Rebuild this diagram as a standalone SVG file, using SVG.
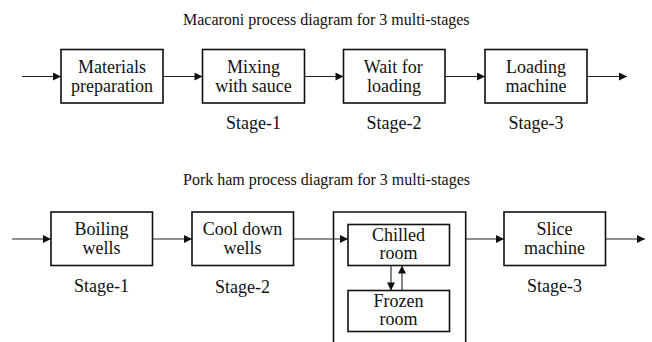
<svg xmlns="http://www.w3.org/2000/svg" width="652" height="342" viewBox="0 0 652 342">
  <style>
    .box { fill: #fff; stroke: #111; stroke-width: 1.6; }
    .lbl { font-size: 18px; fill: #111; }
    .title { font-size: 16px; fill: #111; }
    .flow { stroke: #222; stroke-width: 1.1; fill: none; }
  </style>
  <defs>
    <marker id="head" viewBox="0 0 10 10" refX="10" refY="5" markerWidth="9" markerHeight="8" markerUnits="userSpaceOnUse" orient="auto">
      <path d="M0,0 L10,5 L0,10 Z" fill="#111"/>
    </marker>
  </defs>
  <rect width="652" height="342" fill="#fff"/>

  <!-- Macaroni line (labels placed by their left edge) -->
  <text class="title" x="183" y="25" font-family="Liberation Serif, serif">Macaroni process diagram for 3 multi-stages</text>

  <g id="m-materials">
    <rect class="box" x="61" y="49.5" width="102" height="53.5"/>
    <text class="lbl" x="78" y="72.7" font-family="Liberation Serif, serif">Materials</text>
    <text class="lbl" x="71" y="91.7" font-family="Liberation Serif, serif">preparation</text>
  </g>
  <g id="m-mixing">
    <rect class="box" x="202.5" y="49.5" width="102" height="53.5"/>
    <text class="lbl" x="227" y="72.7" font-family="Liberation Serif, serif">Mixing</text>
    <text class="lbl" x="215.3" y="91.7" font-family="Liberation Serif, serif">with sauce</text>
    <text class="lbl" x="226" y="129.3" font-family="Liberation Serif, serif">Stage-1</text>
  </g>
  <g id="m-wait">
    <rect class="box" x="343.5" y="49.5" width="101.5" height="53.5"/>
    <text class="lbl" x="363.8" y="72.7" font-family="Liberation Serif, serif">Wait for</text>
    <text class="lbl" x="367" y="91.7" font-family="Liberation Serif, serif">loading</text>
    <text class="lbl" x="366.5" y="129.3" font-family="Liberation Serif, serif">Stage-2</text>
  </g>
  <g id="m-loading">
    <rect class="box" x="485" y="49.5" width="102" height="53.5"/>
    <text class="lbl" x="506" y="72.7" font-family="Liberation Serif, serif">Loading</text>
    <text class="lbl" x="505.5" y="91.7" font-family="Liberation Serif, serif">machine</text>
    <text class="lbl" x="508.5" y="129.3" font-family="Liberation Serif, serif">Stage-3</text>
  </g>

  <!-- Pork ham line -->
  <text class="title" x="183" y="185" font-family="Liberation Serif, serif">Pork ham process diagram for 3 multi-stages</text>

  <g id="p-boiling">
    <rect class="box" x="51" y="212" width="101.5" height="53.5"/>
    <text class="lbl" x="74.5" y="235" font-family="Liberation Serif, serif">Boiling</text>
    <text class="lbl" x="82.5" y="253.5" font-family="Liberation Serif, serif">wells</text>
    <text class="lbl" x="74" y="292" font-family="Liberation Serif, serif">Stage-1</text>
  </g>
  <g id="p-cooldown">
    <rect class="box" x="192" y="212" width="101.5" height="53.5"/>
    <text class="lbl" x="202.8" y="235" font-family="Liberation Serif, serif">Cool down</text>
    <text class="lbl" x="223.5" y="253.5" font-family="Liberation Serif, serif">wells</text>
    <text class="lbl" x="215" y="292.5" font-family="Liberation Serif, serif">Stage-2</text>
  </g>
  <g id="p-storage">
    <path d="M333.5,345 V212 H465.7 V345" fill="none" stroke="#111" stroke-width="1.6"/>
  </g>
  <g id="p-chilled">
    <rect class="box" x="348" y="224.5" width="101.5" height="41"/>
    <text class="lbl" x="372" y="240.7" font-family="Liberation Serif, serif">Chilled</text>
    <text class="lbl" x="379.5" y="259" font-family="Liberation Serif, serif">room</text>
  </g>
  <g id="p-frozen">
    <rect class="box" x="348" y="290.5" width="101.5" height="41"/>
    <text class="lbl" x="373.5" y="306.7" font-family="Liberation Serif, serif">Frozen</text>
    <text class="lbl" x="379.5" y="325" font-family="Liberation Serif, serif">room</text>
  </g>
  <g id="p-slice">
    <rect class="box" x="504" y="212" width="101.5" height="53.5"/>
    <text class="lbl" x="536.5" y="235" font-family="Liberation Serif, serif">Slice</text>
    <text class="lbl" x="524" y="253.5" font-family="Liberation Serif, serif">machine</text>
    <text class="lbl" x="527" y="292" font-family="Liberation Serif, serif">Stage-3</text>
  </g>

  <!-- connectors -->
  <g id="connectors" marker-end="url(#head)">
    <line class="flow" x1="22" y1="76.5" x2="61" y2="76.5"/>
    <line class="flow" x1="163" y1="76.5" x2="202.5" y2="76.5"/>
    <line class="flow" x1="304.5" y1="76.5" x2="343.5" y2="76.5"/>
    <line class="flow" x1="445" y1="76.5" x2="485" y2="76.5"/>
    <line class="flow" x1="587" y1="76.5" x2="627" y2="76.5"/>

    <line class="flow" x1="12" y1="239" x2="51" y2="239"/>
    <line class="flow" x1="152.5" y1="239" x2="192" y2="239"/>
    <line class="flow" x1="293.5" y1="239" x2="348" y2="239"/>
    <line class="flow" x1="465.7" y1="239" x2="504" y2="239"/>
    <line class="flow" x1="605.5" y1="239" x2="645" y2="239"/>

    <line class="flow" x1="391" y1="265.5" x2="391" y2="290.5"/>
    <line class="flow" x1="402" y1="290.5" x2="402" y2="265.5"/>
  </g>
</svg>
